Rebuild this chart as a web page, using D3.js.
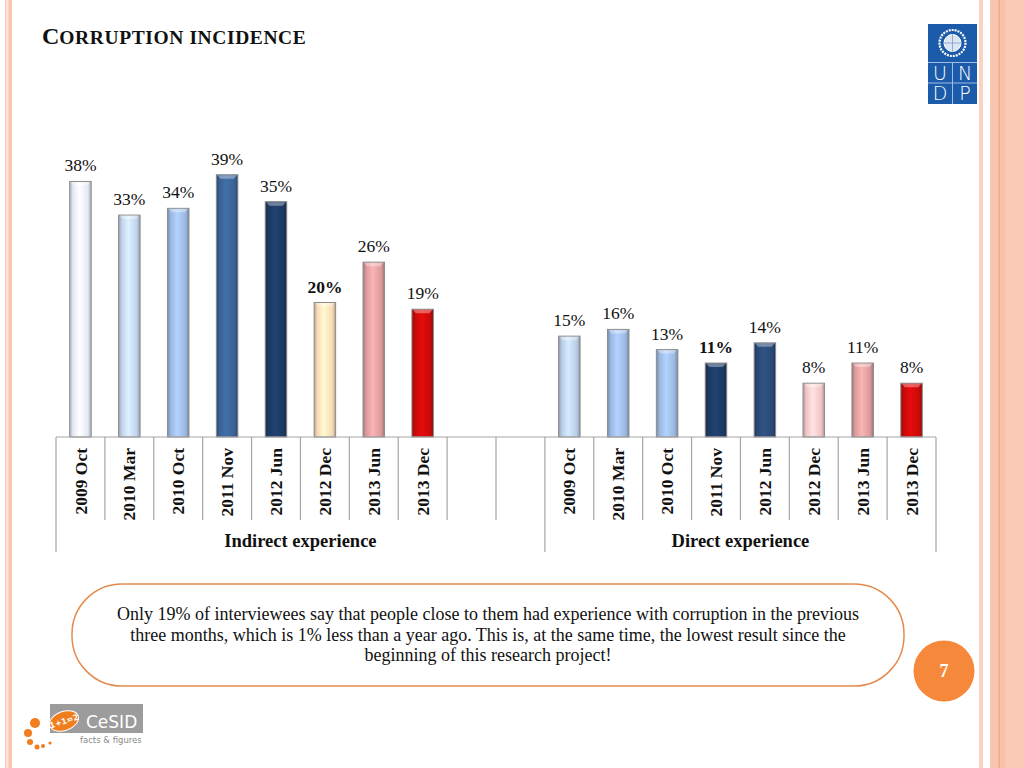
<!DOCTYPE html>
<html>
<head>
<meta charset="utf-8">
<script src="https://cdn.jsdelivr.net/npm/d3@7"></script>
<style>
  html, body { margin: 0; padding: 0; background: #fff; }
  svg { display: block; }
</style>
</head>
<body>
<svg id="chart" width="1024" height="768"></svg>
<script>
// ---------- DATA ----------
const periods = ["2009 Oct", "2010 Mar", "2010 Oct", "2011 Nov", "2012 Jun", "2012 Dec", "2013 Jun", "2013 Dec"];
const indirectValues = [38, 33, 34, 39, 35, 20, 26, 19];
const directValues = [15, 16, 13, 11, 14, 8, 11, 8];
const groupLabels = ["Indirect experience", "Direct experience"];
const indirectColors = ["#E6EDF7", "#C3D6EE", "#9DBAE2", "#3B6397", "#1E3A64", "#FBDDB8", "#DE9E9E", "#CC0A0A"];
const directColors = ["#BCD0EA", "#9DBAE2", "#9DBAE2", "#1E3A64", "#2A4976", "#F4C8C8", "#DE9E9E", "#CC0A0A"];
const boldIndirect = ["2012 Dec"];
const boldDirect = ["2011 Nov"];
const titleText = "Corruption incidence";
const noteLines = [
  "Only 19% of interviewees say that people close to them had experience with corruption in the previous",
  "three months, which is 1% less than a year ago. This is, at the same time, the lowest result since the",
  "beginning of this research project!"
];
const pageNumber = "7";

// ---------- SETUP ----------
const svg = d3.select("#chart");
const serif = "'Liberation Serif', 'DejaVu Serif', serif";
const defs = svg.append("defs");

// decorative side stripes
const stripes = [
  [5, 1.5, "#F9C6B4"], [6.5, 1.7, "#FDE3DA"], [8.2, 3.8, "#F9C6B4"],
  [979, 4, "#FAD2C2"], [990, 8.5, "#F8C5B0"], [998.5, 1.3, "#EE9163"],
  [999.8, 7, "#F8C2AC"], [1006.8, 17.2, "#FBCAB6"]
];
svg.selectAll("rect.stripe").data(stripes).join("rect")
  .attr("class", "stripe")
  .attr("x", d => d[0]).attr("y", 0).attr("width", d => d[1]).attr("height", 768)
  .attr("fill", d => d[2]);

// ---------- TITLE ----------
const title = svg.append("text")
  .attr("x", 42).attr("y", 44)
  .attr("font-family", serif).attr("font-weight", "bold").attr("fill", "#111");
title.append("tspan").attr("font-size", 24).text(titleText.charAt(0).toUpperCase());
title.append("tspan").attr("font-size", 19.5).attr("letter-spacing", 0.6)
  .text(titleText.slice(1).toUpperCase());

// ---------- SCALES ----------
const slots = periods.map(p => "I|" + p).concat(["gap1", "gap2"], periods.map(p => "D|" + p));
const x = d3.scaleBand().domain(slots).range([56, 936]).padding(0);
const y = d3.scaleLinear().domain([0, 40]).range([437, 168]);
const barW = x.bandwidth() * 0.44;

const bars = periods.map((p, i) => ({ key: "I|" + p, period: p, value: indirectValues[i], color: indirectColors[i], bold: boldIndirect.includes(p) }))
  .concat(periods.map((p, i) => ({ key: "D|" + p, period: p, value: directValues[i], color: directColors[i], bold: boldDirect.includes(p) })));

// gradients
bars.forEach((b, i) => {
  const c = d3.color(b.color);
  const g = defs.append("linearGradient").attr("id", "g" + i)
    .attr("x1", "0%").attr("x2", "100%").attr("y1", "0%").attr("y2", "0%");
  g.append("stop").attr("offset", "0%").attr("stop-color", c.darker(0.8));
  g.append("stop").attr("offset", "15%").attr("stop-color", c.darker(0.05));
  g.append("stop").attr("offset", "45%").attr("stop-color", c.brighter(0.35));
  g.append("stop").attr("offset", "85%").attr("stop-color", c.darker(0.05));
  g.append("stop").attr("offset", "100%").attr("stop-color", c.darker(0.9));
});

// ---------- BARS ----------
const barG = svg.append("g");
barG.selectAll("rect.bar").data(bars).join("rect")
  .attr("class", "bar")
  .attr("x", d => x(d.key) + (x.bandwidth() - barW) / 2)
  .attr("y", d => y(d.value))
  .attr("width", barW)
  .attr("height", d => y(0) - y(d.value))
  .attr("fill", (d, i) => `url(#g${i})`)
  .attr("stroke", "#8C8C8C").attr("stroke-width", 1);
// top bevel highlight
barG.selectAll("path.cap").data(bars).join("path")
  .attr("class", "cap")
  .attr("d", d => {
    const x0 = x(d.key) + (x.bandwidth() - barW) / 2, y0 = y(d.value);
    return `M${x0 + 1},${y0 + 0.5} L${x0 + barW - 1},${y0 + 0.5} L${x0 + barW - 4},${y0 + 4} L${x0 + 4},${y0 + 4} Z`;
  })
  .attr("fill", "#fff").attr("fill-opacity", 0.35);

// value labels
svg.selectAll("text.val").data(bars).join("text")
  .attr("class", "val")
  .attr("x", d => x(d.key) + x.bandwidth() / 2)
  .attr("y", d => y(d.value) - 10)
  .attr("text-anchor", "middle")
  .attr("font-family", serif).attr("font-size", 17.5)
  .attr("font-weight", d => d.bold ? "bold" : "normal")
  .attr("fill", "#111")
  .text(d => d.value + "%");

// ---------- AXIS ----------
const axisColor = "#A6A6A6";
const axisY = y(0);
svg.append("line").attr("x1", 56).attr("x2", 936).attr("y1", axisY).attr("y2", axisY)
  .attr("stroke", axisColor).attr("stroke-width", 1.2);

const boundaries = slots.map(s => x(s)).concat([x.range()[1]]);
const groupEdges = [x(slots[0]), x("D|" + periods[0]), x.range()[1]];
svg.selectAll("line.tick").data(boundaries).join("line")
  .attr("class", "tick")
  .attr("x1", d => d).attr("x2", d => d)
  .attr("y1", axisY)
  .attr("y2", d => groupEdges.some(e => Math.abs(e - d) < 0.5) ? 552 : 520)
  .attr("stroke", axisColor).attr("stroke-width", 1.2);

// category labels
svg.selectAll("text.cat").data(bars).join("text")
  .attr("class", "cat")
  .attr("transform", d => `translate(${x(d.key) + x.bandwidth() / 2},448) rotate(-90)`)
  .attr("text-anchor", "end")
  .attr("dy", "0.35em")
  .attr("font-family", serif).attr("font-size", 17.5).attr("font-weight", "bold")
  .attr("fill", "#111")
  .text(d => d.period);

// group labels
const groups = [
  { label: groupLabels[0], x0: groupEdges[0], x1: groupEdges[1] },
  { label: groupLabels[1], x0: groupEdges[1], x1: groupEdges[2] }
];
svg.selectAll("text.grp").data(groups).join("text")
  .attr("class", "grp")
  .attr("x", d => (d.x0 + d.x1) / 2).attr("y", 547)
  .attr("text-anchor", "middle")
  .attr("font-family", serif).attr("font-size", 18.5).attr("font-weight", "bold")
  .attr("fill", "#111")
  .text(d => d.label);

// ---------- NOTE BOX ----------
svg.append("rect")
  .attr("x", 72).attr("y", 584).attr("width", 832).attr("height", 102)
  .attr("rx", 50).attr("ry", 50)
  .attr("fill", "#fff").attr("stroke", "#E58A4E").attr("stroke-width", 1.5);
svg.selectAll("text.note").data(noteLines).join("text")
  .attr("class", "note")
  .attr("x", 488).attr("y", (d, i) => 620 + i * 20.5)
  .attr("text-anchor", "middle")
  .attr("font-family", serif).attr("font-size", 18)
  .attr("fill", "#111")
  .text(d => d);

// ---------- PAGE NUMBER ----------
svg.append("circle").attr("cx", 944).attr("cy", 671).attr("r", 30.5).attr("fill", "#F5883B");
svg.append("text").attr("x", 944).attr("y", 677).attr("text-anchor", "middle")
  .attr("font-family", serif).attr("font-weight", "bold").attr("font-size", 18).attr("fill", "#fff")
  .text(pageNumber);

// ---------- UNDP LOGO ----------
const undp = svg.append("g");
undp.append("rect").attr("x", 928).attr("y", 24).attr("width", 49).attr("height", 80).attr("fill", "#1B5BAA");
undp.append("circle").attr("cx", 952.5).attr("cy", 43).attr("r", 13).attr("fill", "none").attr("stroke", "#fff").attr("stroke-width", 2.2).attr("stroke-dasharray", "2 1");
undp.append("circle").attr("cx", 952.5).attr("cy", 43).attr("r", 8.5).attr("fill", "#DCE6F2").attr("stroke", "#fff");
undp.append("path").attr("d", "M944,43 L961,43 M952.5,34.5 L952.5,51.5").attr("stroke", "#7E9CC7").attr("stroke-width", 0.8);
undp.append("path").attr("d", "M928,62.5 H977 M928,83 H977 M952.5,62.5 V104").attr("stroke", "#9FBDE6").attr("stroke-width", 1);
const letters = [["U", 940, 73], ["N", 965, 73], ["D", 940, 93.5], ["P", 965, 93.5]];
undp.selectAll("text").data(letters).join("text")
  .attr("x", d => d[1]).attr("y", d => d[2]).attr("dy", "0.36em")
  .attr("text-anchor", "middle").attr("font-family", "'DejaVu Sans', sans-serif")
  .attr("font-size", 19).attr("font-weight", 300).attr("fill", "#fff")
  .text(d => d[0]);

// ---------- CeSID LOGO ----------
const ces = svg.append("g");
ces.append("rect").attr("x", 50).attr("y", 704).attr("width", 93).attr("height", 29).attr("fill", "#9C9C9C");
const dots = [[35, 723, 5], [28, 733, 4], [30, 742, 3], [37, 747, 2.5], [43, 746, 2], [50, 743, 1.6]];
ces.selectAll("circle").data(dots).join("circle")
  .attr("cx", d => d[0]).attr("cy", d => d[1]).attr("r", d => d[2]).attr("fill", "#F07D1E");
ces.append("ellipse").attr("cx", 64).attr("cy", 721).attr("rx", 15).attr("ry", 9.5)
  .attr("transform", "rotate(-20,64,721)").attr("fill", "#F07D1E").attr("stroke", "#fff").attr("stroke-width", 1);
ces.append("text").attr("x", 64).attr("y", 724).attr("text-anchor", "middle")
  .attr("transform", "rotate(-18,64,721)")
  .attr("font-family", "'DejaVu Sans', sans-serif").attr("font-size", 8).attr("font-weight", "bold").attr("fill", "#fff").text("1+1=2");
ces.append("text").attr("x", 86).attr("y", 728).attr("font-family", "'DejaVu Sans', sans-serif")
  .attr("font-size", 17).attr("fill", "#fff").text("CeSID");
ces.append("text").attr("x", 80).attr("y", 743).attr("font-family", "'DejaVu Sans', sans-serif")
  .attr("font-size", 8.5).attr("fill", "#8A8A8A").text("facts & figures");
</script>
</body>
</html>
